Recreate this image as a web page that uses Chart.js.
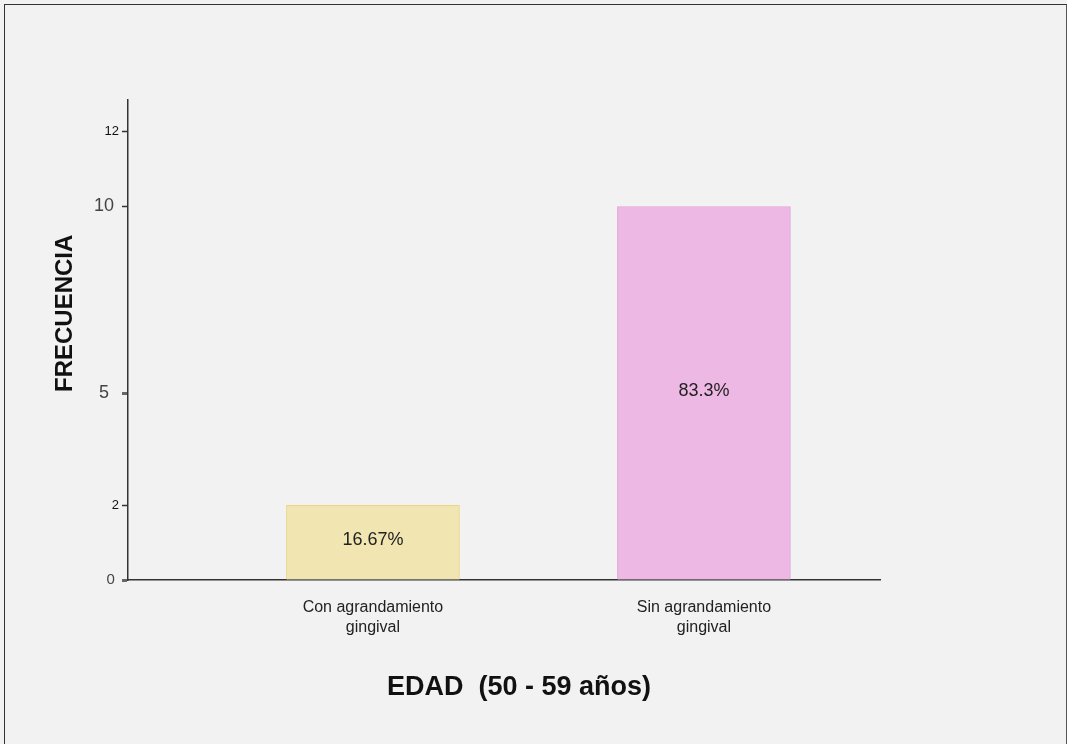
<!DOCTYPE html>
<html>
<head>
<meta charset="utf-8">
<script src="https://cdn.jsdelivr.net/npm/chart.js@4.4.1/dist/chart.umd.min.js"></script>
<style>
    html, body { margin: 0; padding: 0; background: #f2f2f2; overflow: hidden; }
    #frame { position: absolute; left: 4px; top: 4px; width: 1061px; height: 800px; border-left: 1.5px solid #333; border-top: 1.5px solid #333; border-right: 1.5px solid #555; }
    #chart { position: absolute; left: 0; top: 0; }
</style>
</head>
<body>
<div id="frame"></div>
<canvas id="chart" width="1067" height="744"></canvas>
<script>
// =============================
// Chart data
// =============================
const categories = [['Con agrandamiento', 'gingival'], ['Sin agrandamiento', 'gingival']];
const frequencies = [2, 10];
const percentLabels = ['16.67%', '83.3%'];
const yTickValues = [0, 2, 5, 10, 12];
const yTickLabels = ['0 ', '2', '5  ', '10 ', '12'];

const FONT = "'Liberation Sans', Arial, sans-serif";

// Bars sit at x = 1, 2 on a linear axis so their spacing can follow the picture
const points = frequencies.map((v, i) => ({ x: i + 1, y: v }));

// Percentages written in the middle of each bar
const barLabels = {
    id: 'barLabels',
    afterDatasetsDraw(chart) {
        const ctx = chart.ctx;
        const meta = chart.getDatasetMeta(0);
        ctx.save();
        ctx.font = '18px ' + FONT;
        ctx.fillStyle = '#222';
        ctx.textAlign = 'center';
        ctx.textBaseline = 'middle';
        meta.data.forEach((bar, i) => {
            ctx.fillText(percentLabels[i], bar.x, (bar.y + bar.base) / 2 - 2);
        });
        ctx.restore();
    }
};

// Tick label styles differ in the original
const tickValue = c => (c && c.tick) ? c.tick.value : null;
const tickFont = c => {
    const value = tickValue(c);
    if (value === 10 || value === 5) return { family: FONT, size: 18 };
    if (value === 0) return { family: FONT, size: 15 };
    return { family: FONT, size: 13 };
};
const heavyTick = c => tickValue(c) === 5 || tickValue(c) === 0;

new Chart(document.getElementById('chart'), {
    type: 'bar',
    data: {
        datasets: [{
            data: points,
            backgroundColor: ['#f1e5b1', '#edb9e4'],
            borderColor: ['#e8d683', '#e2a3d4'],
            borderWidth: 1,
            barThickness: 173
        }]
    },
    options: {
        responsive: false,
        animation: false,
        layout: { padding: { left: 0, top: 100, right: 187, bottom: 0 } },
        plugins: { legend: { display: false }, tooltip: { enabled: false } },
        scales: {
            x: {
                type: 'linear',
                offset: false,
                min: 0.26,
                max: 2.532,
                afterFit: scale => { scale.height = 164; },
                afterBuildTicks: scale => {
                    scale.ticks = categories.map((_, i) => ({ value: i + 1 }));
                },
                grid: { display: true, offset: false, drawOnChartArea: false, drawTicks: false },
                border: { color: '#333', width: 1.5 },
                ticks: {
                    padding: 18,
                    color: '#222',
                    font: { family: FONT, size: 16, lineHeight: 1.25 },
                    callback: value => categories[value - 1] || ''
                },
                title: {
                    display: true,
                    text: '    EDAD  (50 - 59 años)',
                    color: '#111',
                    font: { family: FONT, size: 27, weight: 'bold' },
                    padding: { top: 0, bottom: 40 }
                }
            },
            y: {
                min: 0,
                max: 12.85,
                afterFit: scale => { scale.width = 128; },
                afterBuildTicks: scale => {
                    scale.ticks = yTickValues.map(v => ({ value: v }));
                },
                grid: {
                    drawOnChartArea: false,
                    tickLength: 6,
                    tickColor: c => heavyTick(c) ? '#666' : '#333',
                    tickWidth: c => heavyTick(c) ? 3 : 1.5
                },
                border: { color: '#333', width: 1.5 },
                ticks: {
                    padding: 3,
                    color: c => (tickValue(c) === 12 || tickValue(c) === 2) ? '#111' : '#444',
                    font: tickFont,
                    callback: value => yTickLabels[yTickValues.indexOf(value)]
                },
                title: {
                    display: true,
                    text: '        FRECUENCIA',
                    color: '#111',
                    font: { family: FONT, size: 24, weight: 'bold' },
                    padding: { top: 51, bottom: 0 }
                }
            }
        }
    },
    plugins: [barLabels]
});
</script>
</body>
</html>
